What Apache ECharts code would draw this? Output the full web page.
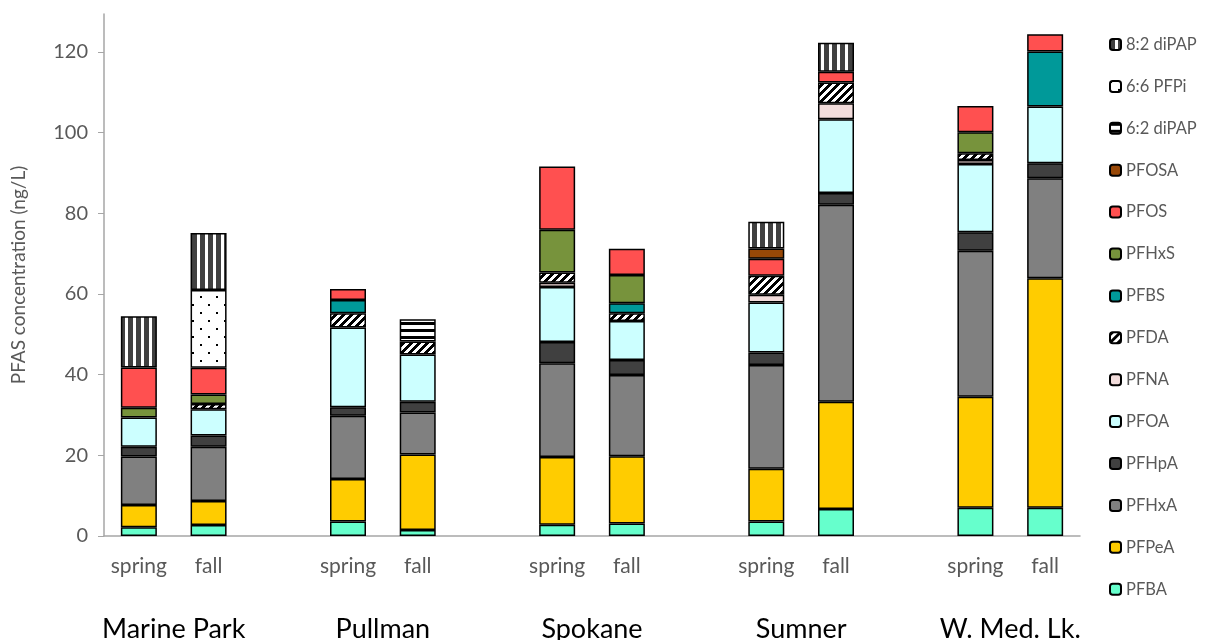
<!DOCTYPE html>
<html>
<head>
<meta charset="utf-8">
<script src="https://cdn.jsdelivr.net/npm/echarts@6/dist/echarts.min.js"></script>
<style>
  html, body { margin: 0; padding: 0; background: #fff; }
  #chart { width: 1207px; height: 640px; }
</style>
</head>
<body>
<div id="chart"></div>
<script>
// slots along the x axis, empty ones are the gaps between sites
const slots = ['spring', 'fall', '', 'spring', 'fall', '', 'spring', 'fall', '', 'spring', 'fall', '', 'spring', 'fall'];
const sites = ['Marine Park', 'Pullman', 'Spokane', 'Sumner', 'W. Med. Lk.'];
const yTicks = [0, 20, 40, 60, 80, 100, 120];

// values per sample: MP s, MP f, Pullman s, f, Spokane s, f, Sumner s, f, W.Med s, f
const PFBA    = [2.2, 2.7, 3.6, 1.5, 2.8, 3.1, 3.6, 6.7, 7.0, 7.0];
const PFPeA   = [5.5, 6.0, 10.5, 18.7, 16.8, 16.7, 13.1, 26.6, 27.5, 56.9];
const PFHxA   = [12.0, 13.4, 15.7, 10.4, 23.2, 20.1, 25.7, 48.8, 36.2, 24.8];
const PFHpA   = [2.4, 2.8, 2.1, 2.7, 5.3, 3.7, 3.1, 2.9, 4.6, 3.7];
const PFOA    = [7.3, 6.5, 19.8, 11.7, 13.6, 9.7, 12.4, 18.3, 16.9, 14.1];
const PFNA    = [0, 0, 0, 0, 1.1, 0, 1.9, 4.0, 1.0, 0];
const PFDA    = [0, 1.3, 3.5, 3.2, 2.5, 1.9, 4.7, 5.1, 1.7, 0];
const PFBS    = [0, 0, 3.3, 0, 0, 2.5, 0, 0, 0, 13.6];
const PFHxS   = [2.4, 2.4, 0, 0, 10.6, 7.0, 0, 0, 5.2, 0];
const PFOS    = [10.0, 6.6, 2.7, 0, 15.7, 6.5, 4.2, 2.7, 6.5, 4.3];
const PFOSA   = [0, 0, 0, 0, 0, 0, 2.6, 0, 0, 0];
const diPAP62 = [0, 0, 0, 5.5, 0, 0, 0, 0, 0, 0];
const PFPi66  = [0, 19.3, 0, 0, 0, 0, 0, 0, 0, 0];
const diPAP82 = [12.7, 14.1, 0, 0, 0, 0, 6.6, 7.2, 0, 0];

function makePattern(w, h, draw) {
  const c = document.createElement('canvas');
  c.width = w; c.height = h;
  const ctx = c.getContext('2d');
  ctx.fillStyle = '#fff';
  ctx.fillRect(0, 0, w, h);
  draw(ctx);
  return { image: c, repeat: 'repeat' };
}

const vStripes = makePattern(8, 8, ctx => { ctx.fillStyle = '#404040'; ctx.fillRect(0, 0, 5, 8); });
const hStripes = makePattern(8, 7, ctx => { ctx.fillStyle = '#000'; ctx.fillRect(0, 0, 8, 3); });
const dots = makePattern(16, 16, ctx => {
  ctx.fillStyle = '#000';
  ctx.fillRect(0, 0, 2, 2);
  ctx.fillRect(8, 8, 2, 2);
});
const diag = makePattern(8, 8, ctx => {
  ctx.fillStyle = '#000';
  for (let x = 0; x < 8; x++)
    for (let y = 0; y < 8; y++)
      if ((x + y) % 8 < 4) ctx.fillRect(x, y, 1, 1);
});

// bottom to top of the stack
const compounds = [
  ['PFBA', PFBA, '#66FFCC'],
  ['PFPeA', PFPeA, '#FFCC00'],
  ['PFHxA', PFHxA, '#808080'],
  ['PFHpA', PFHpA, '#404040'],
  ['PFOA', PFOA, '#CCFFFF'],
  ['PFNA', PFNA, '#F2DCDB'],
  ['PFDA', PFDA, diag],
  ['PFBS', PFBS, '#009999'],
  ['PFHxS', PFHxS, '#77933C'],
  ['PFOS', PFOS, '#FF5050'],
  ['PFOSA', PFOSA, '#984807'],
  ['6:2 diPAP', diPAP62, hStripes],
  ['6:6 PFPi', PFPi66, dots],
  ['8:2 diPAP', diPAP82, vStripes]
];

function toSlots(vals) {
  const out = [];
  let k = 0;
  slots.forEach(s => {
    if (s === '') { out.push('-'); return; }
    const v = vals[k++];
    out.push(v ? v : '-');
  });
  return out;
}

// site label sits on the boundary between its spring and fall slot
const siteAt = {};
sites.forEach((s, i) => { siteAt[1 + i * 3] = s; });

const font = 'Lato, "Open Sans", sans-serif';
const grey = '#595959';

const series = compounds.map(([name, vals, color]) => ({
  name,
  type: 'bar',
  stack: 'total',
  barWidth: 36,
  data: toSlots(vals),
  itemStyle: { color, borderColor: '#000', borderWidth: 1.5 },
  emphasis: { disabled: true }
}));

const chart = echarts.init(document.getElementById('chart'), null, { renderer: 'canvas' });
chart.setOption({
  animation: false,
  textStyle: { fontFamily: font },
  grid: { left: 104, right: 127, top: 14, bottom: 104, outerBoundsMode: 'none', containLabel: false },
  legend: {
    orient: 'vertical',
    left: 1104,
    top: 31,
    itemWidth: 11,
    itemHeight: 11,
    itemGap: 24.9,
    data: compounds.map(c => c[0]).reverse(),
    textStyle: { color: grey, fontSize: 16.5, lineHeight: 16, fontFamily: font },
    selectedMode: false
  },
  xAxis: [
    {
      type: 'category',
      data: slots,
      axisLine: { lineStyle: { color: '#A6A6A6', width: 1.5 } },
      axisTick: { show: false },
      axisLabel: { color: grey, fontSize: 21, margin: 20, interval: 0 }
    },
    {
      type: 'value',
      min: 0,
      max: slots.length,
      interval: 1,
      position: 'bottom',
      axisLine: { show: false },
      axisTick: { show: false },
      splitLine: { show: false },
      axisLabel: {
        color: '#000',
        fontSize: 27,
        margin: 80,
        showMinLabel: true,
        showMaxLabel: true,
        formatter: v => siteAt[v] || ''
      }
    }
  ],
  yAxis: {
    type: 'value',
    min: yTicks[0],
    max: 129.4,
    interval: yTicks[1] - yTicks[0],
    name: 'PFAS concentration (ng/L)',
    nameLocation: 'middle',
    nameGap: 76,
    nameTextStyle: { color: grey, fontSize: 19 },
    axisLine: { show: true, lineStyle: { color: '#A6A6A6', width: 1.5 } },
    axisTick: { show: true, length: 6, lineStyle: { color: '#A6A6A6' } },
    splitLine: { show: false },
    axisLabel: {
      color: grey,
      fontSize: 20,
      margin: 16,
      showMaxLabel: false,
      formatter: v => (yTicks.indexOf(v) >= 0 ? v : '')
    }
  },
  series
});
</script>
</body>
</html>
